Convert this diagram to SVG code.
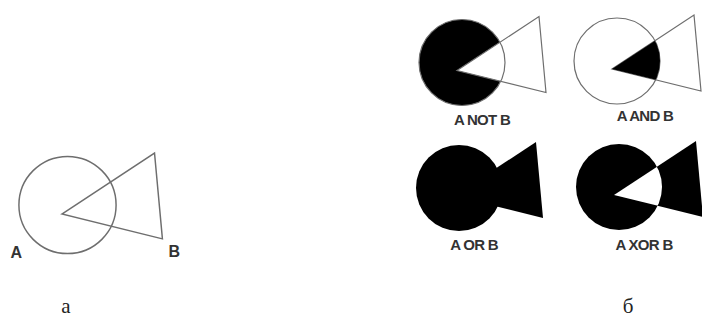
<svg xmlns="http://www.w3.org/2000/svg" width="702" height="322" viewBox="0 0 702 322">
<style>
.ln{fill:none;stroke:#6e6e6e;stroke-width:1.2}
.blk{fill:#000}
.wht{fill:#fff}
.lbl{font-family:"Liberation Sans",Arial,sans-serif;font-weight:bold;font-size:15px;fill:#333;text-anchor:middle;letter-spacing:-0.7px}
.cap{font-family:"Liberation Serif","Times New Roman",serif;font-size:21px;fill:#222;text-anchor:middle}
</style>
<defs>
<circle id="c" cx="0" cy="0" r="43"/>
<polygon id="t" points="-5,8 77,-46 84,30"/>
<clipPath id="cc"><circle cx="0" cy="0" r="43"/></clipPath>
</defs>
<rect width="702" height="322" fill="#fff"/>

<g id="diagram-a">
<g transform="translate(67.5,205) scale(1.13)">
<use href="#c" class="ln" style="stroke-width:1.3"/>
<use href="#t" class="ln" style="stroke-width:1.3"/>
</g>
<text class="lbl" x="16" y="258" style="font-size:16px">A</text>
<text class="lbl" x="174" y="257" style="font-size:16px">B</text>
<text class="cap" x="66" y="313">а</text>
</g>

<g id="not">
<g transform="translate(462,62.5)">
<use href="#c" class="blk"/>
<use href="#t" class="wht"/>
<use href="#t" class="ln"/>
<use href="#c" class="ln"/>
</g>
<text class="lbl" x="482" y="125">A NOT B</text>
</g>

<g id="and">
<g transform="translate(617,61)">
<use href="#c" class="ln"/>
<use href="#t" class="ln"/>
<use href="#t" class="blk" clip-path="url(#cc)"/>
</g>
<text class="lbl" x="645" y="121">A AND B</text>
</g>

<g id="or">
<g transform="translate(459,188)">
<use href="#c" class="blk"/>
<use href="#t" class="blk"/>
</g>
<text class="lbl" x="474" y="250">A OR B</text>
</g>

<g id="xor">
<g transform="translate(619,187)">
<use href="#c" class="blk"/>
<use href="#t" class="blk"/>
<use href="#t" class="wht" clip-path="url(#cc)"/>
</g>
<text class="lbl" x="644" y="250">A XOR B</text>
</g>

<text class="cap" x="628" y="313">б</text>
</svg>
